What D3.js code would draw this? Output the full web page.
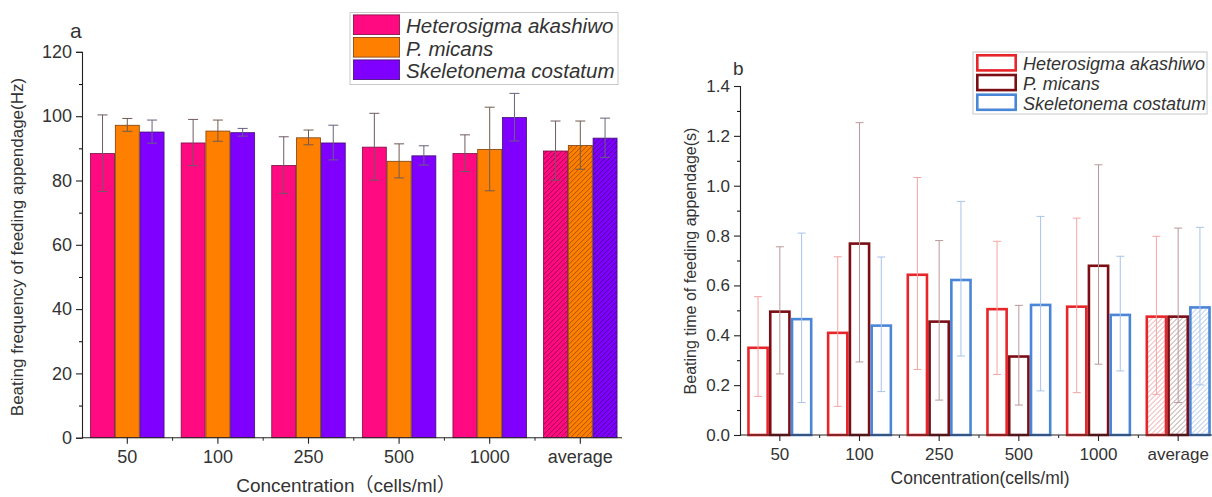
<!DOCTYPE html>
<html>
<head>
<meta charset="utf-8">
<script src="https://cdn.jsdelivr.net/npm/d3@7"></script>
<style>
    body { margin: 0; background: #fff; }
    text { font-family: "Liberation Sans", Arial, "Noto Sans CJK SC", sans-serif; fill: #333; }
</style>
</head>
<body>
<div class="chart"></div>
<script>
var categories = ["50", "100", "250", "500", "1000", "average"];
var seriesNames = ["Heterosigma akashiwo", "P. micans", "Skeletonema costatum"];

// panel a: beating frequency (Hz)
var freqHetero = [88.5, 91.8, 84.8, 90.5, 88.5, 89.3];
var freqMicans = [97.3, 95.5, 93.4, 86.1, 89.8, 91.0];
var freqSkelet = [95.2, 95.0, 91.8, 87.8, 99.7, 93.3];
var freqHeteroErr = [11.9, 7.2, 8.8, 10.4, 5.7, 9.2];
var freqMicansErr = [2.0, 3.3, 2.3, 5.3, 13.0, 7.5];
var freqSkeletErr = [3.6, 1.2, 5.4, 3.0, 7.4, 6.1];
var freqTicks = [0, 20, 40, 60, 80, 100, 120];

// panel b: beating time (s)
var timeHetero = [0.355, 0.415, 0.648, 0.51, 0.52, 0.48];
var timeMicans = [0.50, 0.773, 0.46, 0.32, 0.684, 0.48];
var timeSkelet = [0.47, 0.444, 0.627, 0.527, 0.487, 0.517];
var timeHeteroErr = [0.20, 0.30, 0.385, 0.267, 0.35, 0.317];
var timeMicansErr = [0.255, 0.48, 0.32, 0.20, 0.40, 0.35];
var timeSkeletErr = [0.34, 0.27, 0.31, 0.35, 0.23, 0.316];
var timeTicks = [0, 0.2, 0.4, 0.6, 0.8, 1.0, 1.2, 1.4];

var svg = d3.select('.chart')
    .append('svg')
    .attr('width', 1212)
    .attr('height', 497);

var defs = svg.append('defs');

function hatch(id, bg, line) {
    var p = defs.append('pattern')
        .attr('id', id)
        .attr('patternUnits', 'userSpaceOnUse')
        .attr('width', 5)
        .attr('height', 5);
    p.append('rect').attr('width', 5).attr('height', 5).attr('fill', bg);
    p.append('path')
        .attr('d', 'M0,5 L5,0 M-1,1 L1,-1 M4,6 L6,4')
        .attr('stroke', line)
        .attr('stroke-width', 1);
}

hatch('hA0', '#ff0a80', '#a3004d');
hatch('hA1', '#ff8000', '#a85300');
hatch('hA2', '#8000ff', '#4a0099');
hatch('hB0', '#fff', '#f0a0a0');
hatch('hB1', '#fff', '#b89a9a');
hatch('hB2', '#fff', '#a9c3ea');

function makeRows(vals, errs) {
    return categories.map(function (c, i) {
        return {
            cat: c,
            values: vals.map(function (v, s) {
                return { s: s, v: v[i], e: errs[s][i], avg: c === 'average' };
            })
        };
    });
}

function drawPanel(cfg) {
    var g = svg.append('g');

    var x = d3.scaleBand()
        .domain(categories)
        .range([cfg.left, cfg.right])
        .paddingInner(0.18)
        .paddingOuter(0.09);

    var xs = d3.scaleBand()
        .domain(d3.range(seriesNames.length))
        .range([0, x.bandwidth()]);

    var y = d3.scaleLinear()
        .domain(cfg.domain)
        .range([cfg.bottom, cfg.top]);

    var rows = makeRows(cfg.values, cfg.errors);

    var groups = g.selectAll('.grp')
        .data(rows)
        .enter()
        .append('g')
        .attr('transform', function (d) {
            return 'translate(' + x(d.cat) + ',0)';
        });

    var inset = cfg.strokeWidth / 2;
    groups.selectAll('rect')
        .data(function (d) { return d.values; })
        .enter()
        .append('rect')
        .attr('x', function (d) { return xs(d.s) + inset; })
        .attr('y', function (d) { return y(d.v) + inset; })
        .attr('width', xs.bandwidth() - 2 * inset)
        .attr('height', function (d) { return y(0) - y(d.v) - inset; })
        .attr('fill', function (d) { return d.avg ? 'url(#' + cfg.hatchId + d.s + ')' : cfg.fills[d.s]; })
        .attr('stroke', function (d) { return cfg.strokes[d.s]; })
        .attr('stroke-width', cfg.strokeWidth);

    // error bars
    var cap = cfg.cap;
    var eb = groups.selectAll('.eb')
        .data(function (d) { return d.values; })
        .enter()
        .append('g')
        .attr('stroke', function (d) { return cfg.errColors[d.s]; })
        .attr('stroke-width', 1);
    eb.append('line')
        .attr('x1', function (d) { return xs(d.s) + xs.bandwidth() / 2; })
        .attr('x2', function (d) { return xs(d.s) + xs.bandwidth() / 2; })
        .attr('y1', function (d) { return y(d.v - d.e); })
        .attr('y2', function (d) { return y(d.v + d.e); });
    [-1, 1].forEach(function (sign) {
        eb.append('line')
            .attr('x1', function (d) { return xs(d.s) + xs.bandwidth() / 2 - cap; })
            .attr('x2', function (d) { return xs(d.s) + xs.bandwidth() / 2 + cap; })
            .attr('y1', function (d) { return y(d.v + sign * d.e); })
            .attr('y2', function (d) { return y(d.v + sign * d.e); });
    });

    // axes
    var yAxis = g.append('g')
        .attr('transform', 'translate(' + cfg.left + ',0)')
        .call(d3.axisLeft(y).tickValues(cfg.ticks).tickSize(6).tickPadding(4).tickFormat(cfg.fmt));
    var minor = [];
    for (var i = 0; i < cfg.ticks.length - 1; i++) {
        minor.push((cfg.ticks[i] + cfg.ticks[i + 1]) / 2);
    }
    g.append('g')
        .attr('transform', 'translate(' + cfg.left + ',0)')
        .call(d3.axisLeft(y).tickValues(minor).tickSize(3).tickFormat(''))
        .select('.domain').remove();

    var xAxis = g.append('g')
        .attr('transform', 'translate(0,' + cfg.bottom + ')')
        .call(d3.axisBottom(x).tickSize(6).tickSizeOuter(0).tickPadding(7));
    xAxis.select('.domain').attr('d', 'M' + cfg.left + ',0H' + cfg.axisEnd);

    var bounds = categories.slice(1).map(function (c) {
        return x(c) - x.step() * x.paddingInner() / 2;
    });
    g.append('g')
        .attr('transform', 'translate(0,' + cfg.bottom + ')')
        .selectAll('line')
        .data(bounds)
        .enter()
        .append('line')
        .attr('x1', function (d) { return d; })
        .attr('x2', function (d) { return d; })
        .attr('y1', 0)
        .attr('y2', 3)
        .attr('stroke', '#222');

    [yAxis, xAxis].forEach(function (a) {
        a.selectAll('text').style('font-size', cfg.tickFont + 'px').attr('fill', '#333');
        a.selectAll('line, path').attr('stroke', '#222').attr('stroke-width', 1.1);
    });

    // titles
    g.append('text')
        .attr('x', cfg.xTitle[0])
        .attr('y', cfg.xTitle[1])
        .attr('text-anchor', 'middle')
        .style('font-size', cfg.titleFont + 'px')
        .text(cfg.xLabel);
    g.append('text')
        .attr('transform', 'translate(' + cfg.yTitle[0] + ',' + cfg.yTitle[1] + ') rotate(-90)')
        .attr('text-anchor', 'middle')
        .style('font-size', cfg.yTitleFont + 'px')
        .text(cfg.yLabel);
    g.append('text')
        .attr('x', cfg.tag[0])
        .attr('y', cfg.tag[1])
        .style('font-size', cfg.tagFont + 'px')
        .attr('fill', '#111')
        .text(cfg.tagText);

    // legend
    var L = cfg.legend;
    g.append('rect')
        .attr('x', L.x)
        .attr('y', L.y)
        .attr('width', L.w)
        .attr('height', L.h)
        .attr('fill', '#fff')
        .attr('stroke', '#c8c8c8')
        .attr('stroke-width', 1);
    seriesNames.forEach(function (s, i) {
        g.append('rect')
            .attr('x', L.x + 3 + inset)
            .attr('y', L.y + 2 + i * L.row + inset)
            .attr('width', L.sw - 2 * inset)
            .attr('height', L.row - 2 - 2 * inset)
            .attr('fill', cfg.legendFill ? cfg.fills[i] : '#fff')
            .attr('stroke', cfg.strokes[i])
            .attr('stroke-width', cfg.strokeWidth);
        g.append('text')
            .attr('x', L.x + L.sw + 9)
            .attr('y', L.y + 2 + i * L.row + L.row / 2 + L.font * 0.36)
            .style('font-size', L.font + 'px')
            .style('font-style', 'italic')
            .text(s);
    });
}

drawPanel({
    left: 82, right: 625.6, axisEnd: 622, top: 51.9, bottom: 437.7,
    domain: [0, 120], ticks: freqTicks, fmt: d3.format('d'),
    values: [freqHetero, freqMicans, freqSkelet],
    errors: [freqHeteroErr, freqMicansErr, freqSkeletErr],
    fills: ['#ff0a80', '#ff8000', '#8000ff'],
    strokes: ['#7a1040', '#7a4010', '#401070'],
    strokeWidth: 0.8,
    errColors: ['#6e5a66', '#705a50', '#6a6080'],
    hatchId: 'hA', cap: 5,
    tickFont: 18, titleFont: 19, yTitleFont: 17,
    xLabel: 'Concentration（cells/ml）', xTitle: [346, 492],
    yLabel: 'Beating frequency of feeding appendage(Hz)', yTitle: [23, 247],
    tagText: 'a', tag: [70, 38], tagFont: 21,
    legend: { x: 350, y: 12.5, w: 268, h: 72, row: 22.5, sw: 47, font: 20.5 },
    legendFill: true
});

drawPanel({
    left: 740, right: 1218, axisEnd: 1212, top: 86, bottom: 435,
    domain: [0, 1.4], ticks: timeTicks, fmt: d3.format('.1f'),
    values: [timeHetero, timeMicans, timeSkelet],
    errors: [timeHeteroErr, timeMicansErr, timeSkeletErr],
    fills: ['#fff', '#fff', '#fff'],
    strokes: ['#e8262a', '#7b0d14', '#4a86d8'],
    strokeWidth: 2.6,
    errColors: ['#f4a5a5', '#b89a9a', '#a9c3ea'],
    hatchId: 'hB', cap: 4,
    tickFont: 17, titleFont: 17.5, yTitleFont: 16,
    xLabel: 'Concentration(cells/ml)', xTitle: [980, 484],
    yLabel: 'Beating time of feeding appendage(s)', yTitle: [696, 261],
    tagText: 'b', tag: [733, 75], tagFont: 19,
    legend: { x: 973, y: 52, w: 234, h: 62, row: 19.7, sw: 41, font: 18 },
    legendFill: false
});
</script>
</body>
</html>
